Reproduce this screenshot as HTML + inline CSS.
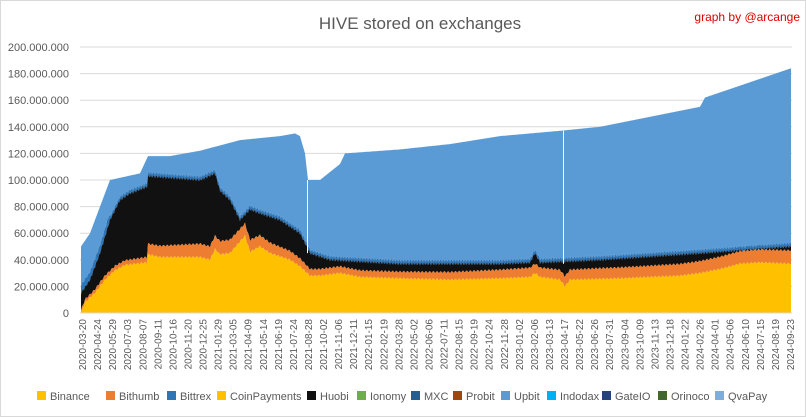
<!DOCTYPE html>
<html><head><meta charset="utf-8"><style>
body{margin:0;background:#fff}
svg{display:block;font-family:"Liberation Sans",sans-serif}
</style></head><body>
<svg id="c" width="806" height="417" xmlns="http://www.w3.org/2000/svg">
<rect x="0.5" y="0.5" width="805" height="416" fill="#fff" stroke="#d9d9d9"/>
<text x="420" y="29" font-size="17" fill="#595959" text-anchor="middle">HIVE stored on exchanges</text>
<text x="800" y="21" font-size="12" fill="#e00000" text-anchor="end">graph by @arcange</text>
<g id="grid"></g><g id="areas"></g><g id="xl"></g>
<g font-size="11" fill="#595959">
<rect x="37" y="391" width="9" height="9" fill="#FFC000"/><text x="50" y="400">Binance</text>
<rect x="106" y="391" width="9" height="9" fill="#ED7D31"/><text x="119" y="400">Bithumb</text>
<rect x="167" y="391" width="9" height="9" fill="#2E75B6"/><text x="180" y="400">Bittrex</text>
<rect x="217" y="391" width="9" height="9" fill="#FFC000"/><text x="230" y="400">CoinPayments</text>
<rect x="307" y="391" width="9" height="9" fill="#111"/><text x="320" y="400">Huobi</text>
<rect x="357" y="391" width="9" height="9" fill="#70AD47"/><text x="370" y="400">Ionomy</text>
<rect x="411" y="391" width="9" height="9" fill="#255E91"/><text x="424" y="400">MXC</text>
<rect x="453" y="391" width="9" height="9" fill="#9E480E"/><text x="466" y="400">Probit</text>
<rect x="501" y="391" width="9" height="9" fill="#5B9BD5"/><text x="514" y="400">Upbit</text>
<rect x="547" y="391" width="9" height="9" fill="#00B0F0"/><text x="560" y="400">Indodax</text>
<rect x="602" y="391" width="9" height="9" fill="#264478"/><text x="615" y="400">GateIO</text>
<rect x="658" y="391" width="9" height="9" fill="#43682B"/><text x="671" y="400">Orinoco</text>
<rect x="715" y="391" width="9" height="9" fill="#7CAFDD"/><text x="728" y="400">QvaPay</text>
</g>
</svg>
<script>
const Y=v=>313-v*1.33;
const g=document.getElementById('grid');
let s='';
for(let i=0;i<=10;i++){const y=Y(i*20);
 if(i>0)s+=`<line x1="80" x2="792" y1="${y}" y2="${y}" stroke="#d9d9d9" stroke-width="1"/>`;
 const lab=i==0?'0':(i*20)+'.000.000';
 s+=`<text x="69" y="${y+4}" font-size="11" fill="#595959" text-anchor="end">${lab}</text>`;}
g.innerHTML=s;
function interp(p,x){for(let i=1;i<p.length;i++){if(x<=p[i][0]){const a=p[i-1],b=p[i];return a[1]+(b[1]-a[1])*(x-a[0])/(b[0]-a[0]||1);}}return p[p.length-1][1];}
const bin=[[81,0],[85,8],[95,15],[105,25],[115,32],[125,36],[147,38],[148,44],[160,42],[200,42],[210,40],[215,48],[220,44],[230,45],[245,58],[250,46],[260,50],[270,45],[290,40],[300,35],[310,28],[320,28],[340,30],[360,27],[400,26],[450,25],[500,26],[530,27],[535,30],[540,27],[560,25],[565,20],[570,25],[620,26],[680,28],[700,30],[720,33],[740,37],[760,38],[791,37]];
const ora=[[81,2],[100,3],[147,4],[148,8],[200,10],[230,10],[250,9],[300,6],[310,5],[400,5],[600,8],[700,9],[791,10]];
const blkT=[[81,15],[90,25],[100,45],[110,70],[120,85],[130,90],[147,95],[148,103],[200,100],[215,105],[220,92],[230,85],[240,70],[250,78],[260,75],[280,70],[300,60],[310,45],[330,40],[400,37],[500,37],[530,38],[535,45],[540,38],[600,40],[700,45],[791,50]];
const tot=[[81,50],[90,60],[100,80],[110,100],[140,105],[148,118],[170,118],[200,122],[240,130],[280,133],[295,135],[300,133],[305,120],[308,100],[320,100],[340,112],[345,120],[400,123],[450,127],[500,133],[560,137],[600,140],[700,155],[705,162],[791,184]];
const L=[];for(let x=81;x<=791;x++){const b=interp(bin,x)+Math.sin(x*1.7)*0.8,o=b+interp(ora,x),k=Math.max(o,interp(blkT,x)+Math.sin(x*2.3)*1.2),t2=k+(x<110?6:2.5);L.push([x,b,o,k,t2,Math.max(t2+2,interp(tot,x))]);}
function poly(i,j,c){let pts=L.map(r=>`${r[0]},${Y(r[i]).toFixed(1)}`).join(' ');pts+=' '+L.slice().reverse().map(r=>`${r[0]},${Y(j<0?0:r[j]).toFixed(1)}`).join(' ');return `<polygon points="${pts}" fill="${c}"/>`;}
document.getElementById('areas').innerHTML=poly(5,4,'#5B9BD5')+poly(4,3,'#2E75B6')+poly(3,2,'#111')+poly(2,1,'#ED7D31')+poly(1,-1,'#FFC000')+
`<line x1="307.5" x2="307.5" y1="${Y(100)}" y2="${Y(45)}" stroke="#fff" stroke-width="1"/><line x1="563.5" x2="563.5" y1="${Y(137)}" y2="${Y(37)}" stroke="#fff" stroke-width="1"/>`+
`<line x1="80" x2="792" y1="313" y2="313" stroke="#d9d9d9"/>`;
const dates=["2020-03-20","2020-04-24","2020-05-29","2020-07-03","2020-08-07","2020-09-11","2020-10-16","2020-11-20","2020-12-25","2021-01-29","2021-03-05","2021-04-09","2021-05-14","2021-06-19","2021-07-24","2021-08-28","2021-10-02","2021-11-06","2021-12-11","2022-01-15","2022-02-19","2022-03-28","2022-05-02","2022-06-06","2022-07-11","2022-08-15","2022-09-19","2022-10-24","2022-11-28","2023-01-02","2023-02-06","2023-03-13","2023-04-17","2023-05-22","2023-06-26","2023-07-31","2023-09-04","2023-10-09","2023-11-13","2023-12-18","2024-01-22","2024-02-26","2024-04-01","2024-05-06","2024-06-10","2024-07-15","2024-08-19","2024-09-23"];
let t='';const n=dates.length;
dates.forEach((d,i)=>{const x=82+i*(708/(n-1))+4;t+=`<text transform="translate(${x},319) rotate(-90)" font-size="10" fill="#595959" text-anchor="end">${d}</text>`;});
document.getElementById('xl').innerHTML=t;
</script>
</body></html>
